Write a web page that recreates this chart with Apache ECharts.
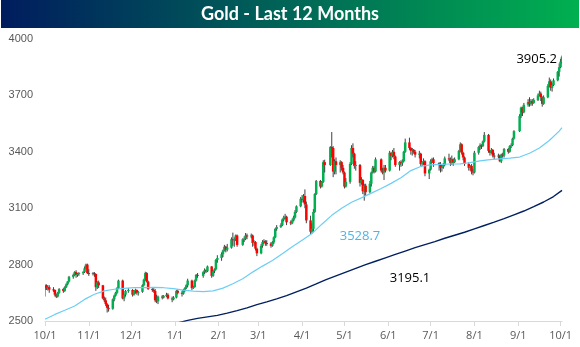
<!DOCTYPE html>
<html>
<head>
<meta charset="utf-8">
<script src="https://cdn.jsdelivr.net/npm/echarts@6/dist/echarts.min.js"></script>
<style>
  html, body { margin: 0; padding: 0; background: #fff; }
  #chart { width: 580px; height: 347px; }
</style>
</head>
<body>
<div id="chart"></div>
<script>
// Daily gold prices: [date, open, close, low, high]
const candles = [
  ['2024-10-01',2665,2690,2630,2695],['2024-10-02',2690,2675,2665,2695],['2024-10-03',2675,2680,2662,2690],['2024-10-04',2680,2667,2650,2690],
  ['2024-10-07',2668,2665,2655,2680],['2024-10-08',2665,2640,2630,2668],['2024-10-09',2640,2630,2622,2645],['2024-10-10',2630,2650,2625,2655],['2024-10-11',2650,2670,2645,2675],
  ['2024-10-14',2670,2660,2650,2675],['2024-10-15',2660,2680,2655,2685],['2024-10-16',2680,2695,2675,2700],['2024-10-17',2695,2710,2690,2712],['2024-10-18',2710,2735,2705,2740],
  ['2024-10-21',2735,2745,2725,2752],['2024-10-22',2745,2760,2740,2765],['2024-10-23',2760,2745,2730,2770],['2024-10-24',2745,2750,2735,2755],['2024-10-25',2750,2755,2740,2760],
  ['2024-10-28',2755,2760,2745,2765],['2024-10-29',2760,2780,2755,2790],['2024-10-30',2780,2800,2775,2805],['2024-10-31',2800,2755,2750,2805],['2024-11-01',2755,2750,2740,2775],
  ['2024-11-04',2750,2755,2742,2760],['2024-11-05',2755,2750,2735,2760],['2024-11-06',2750,2680,2660,2752],['2024-11-07',2680,2705,2670,2712],['2024-11-08',2705,2690,2675,2715],
  ['2024-11-11',2690,2620,2615,2692],['2024-11-12',2620,2610,2600,2630],['2024-11-13',2610,2590,2580,2625],['2024-11-14',2590,2570,2545,2595],['2024-11-15',2570,2565,2550,2585],
  ['2024-11-18',2565,2615,2560,2620],['2024-11-19',2615,2635,2605,2640],['2024-11-20',2635,2650,2630,2655],['2024-11-21',2650,2675,2645,2680],['2024-11-22',2675,2715,2670,2720],
  ['2024-11-25',2715,2620,2615,2720],['2024-11-26',2620,2640,2605,2645],['2024-11-27',2640,2660,2630,2665],['2024-11-29',2660,2665,2650,2675],
  ['2024-12-02',2665,2640,2630,2670],['2024-12-03',2640,2660,2635,2665],['2024-12-04',2660,2665,2645,2672],['2024-12-05',2665,2650,2640,2668],['2024-12-06',2650,2655,2635,2660],
  ['2024-12-09',2655,2690,2650,2695],['2024-12-10',2690,2720,2685,2725],['2024-12-11',2720,2755,2715,2762],['2024-12-12',2755,2710,2705,2760],['2024-12-13',2710,2670,2665,2715],
  ['2024-12-16',2670,2665,2655,2680],['2024-12-17',2665,2660,2650,2675],['2024-12-18',2660,2610,2600,2670],['2024-12-19',2610,2605,2595,2640],['2024-12-20',2605,2630,2590,2635],
  ['2024-12-23',2630,2625,2615,2638],['2024-12-24',2625,2632,2620,2638],['2024-12-26',2632,2640,2628,2650],['2024-12-27',2640,2620,2615,2648],
  ['2024-12-30',2620,2615,2600,2630],['2024-12-31',2615,2625,2610,2632],['2025-01-02',2625,2660,2620,2665],['2025-01-03',2660,2650,2642,2670],
  ['2025-01-06',2650,2645,2630,2660],['2025-01-07',2645,2665,2640,2670],['2025-01-08',2665,2675,2655,2680],['2025-01-09',2675,2690,2670,2695],['2025-01-10',2690,2715,2680,2725],
  ['2025-01-13',2715,2675,2665,2720],['2025-01-14',2675,2680,2670,2688],['2025-01-15',2680,2715,2678,2720],['2025-01-16',2715,2745,2710,2750],['2025-01-17',2745,2740,2730,2755],
  ['2025-01-21',2740,2760,2730,2765],['2025-01-22',2760,2770,2750,2780],['2025-01-23',2770,2765,2755,2775],['2025-01-24',2765,2790,2760,2795],
  ['2025-01-27',2790,2740,2730,2792],['2025-01-28',2740,2765,2735,2770],['2025-01-29',2765,2775,2755,2780],['2025-01-30',2775,2825,2770,2830],['2025-01-31',2825,2835,2810,2850],
  ['2025-02-03',2835,2855,2820,2865],['2025-02-04',2855,2875,2840,2880],['2025-02-05',2875,2895,2870,2905],['2025-02-06',2895,2880,2865,2900],['2025-02-07',2880,2890,2870,2910],
  ['2025-02-10',2890,2935,2885,2945],['2025-02-11',2935,2930,2900,2970],['2025-02-12',2930,2935,2895,2945],['2025-02-13',2935,2955,2925,2960],['2025-02-14',2955,2905,2895,2960],
  ['2025-02-18',2905,2935,2900,2940],['2025-02-19',2935,2938,2920,2950],['2025-02-20',2938,2955,2930,2968],['2025-02-21',2955,2950,2935,2965],
  ['2025-02-24',2950,2955,2940,2965],['2025-02-25',2955,2915,2895,2960],['2025-02-26',2915,2920,2900,2930],['2025-02-27',2920,2885,2875,2925],['2025-02-28',2885,2860,2845,2890],
  ['2025-03-03',2860,2900,2855,2910],['2025-03-04',2900,2920,2890,2930],['2025-03-05',2920,2925,2910,2935],['2025-03-06',2925,2915,2900,2930],['2025-03-07',2915,2912,2900,2930],
  ['2025-03-10',2912,2900,2890,2920],['2025-03-11',2900,2918,2895,2925],['2025-03-12',2918,2945,2910,2950],['2025-03-13',2945,2990,2940,2995],['2025-03-14',2990,3000,2980,3010],
  ['2025-03-17',3000,3010,2995,3020],['2025-03-18',3010,3040,3005,3045],['2025-03-19',3040,3050,3030,3060],['2025-03-20',3050,3055,3040,3070],['2025-03-21',3055,3025,3010,3060],
  ['2025-03-24',3025,3020,3010,3035],['2025-03-25',3020,3035,3015,3045],['2025-03-26',3035,3050,3030,3060],['2025-03-27',3050,3080,3045,3090],['2025-03-28',3080,3110,3075,3115],
  ['2025-03-31',3110,3150,3105,3160],['2025-04-01',3150,3145,3130,3170],['2025-04-02',3145,3165,3130,3175],['2025-04-03',3165,3120,3100,3200],['2025-04-04',3120,3035,3020,3135],
  ['2025-04-07',3035,2975,2960,3060],['2025-04-08',2975,2990,2965,3020],['2025-04-09',2990,3080,2975,3095],['2025-04-10',3080,3175,3075,3180],['2025-04-11',3175,3245,3170,3250],
  ['2025-04-14',3245,3215,3205,3250],['2025-04-15',3215,3240,3210,3245],['2025-04-16',3240,3345,3235,3355],['2025-04-17',3345,3330,3290,3358],
  ['2025-04-21',3330,3425,3325,3430],['2025-04-22',3425,3420,3370,3505],['2025-04-23',3420,3295,3265,3430],['2025-04-24',3295,3350,3280,3360],['2025-04-25',3350,3330,3280,3370],
  ['2025-04-28',3330,3345,3290,3355],['2025-04-29',3345,3315,3300,3350],['2025-04-30',3315,3290,3280,3330],['2025-05-01',3290,3215,3205,3295],['2025-05-02',3215,3240,3210,3260],
  ['2025-05-05',3240,3335,3230,3345],['2025-05-06',3335,3420,3330,3435],['2025-05-07',3420,3390,3370,3445],['2025-05-08',3390,3325,3310,3395],['2025-05-09',3325,3330,3300,3350],
  ['2025-05-12',3330,3235,3215,3335],['2025-05-13',3235,3250,3225,3265],['2025-05-14',3250,3190,3175,3255],['2025-05-15',3190,3220,3140,3230],['2025-05-16',3220,3185,3165,3230],
  ['2025-05-19',3185,3230,3180,3245],['2025-05-20',3230,3290,3215,3295],['2025-05-21',3290,3315,3285,3325],['2025-05-22',3315,3295,3285,3325],['2025-05-23',3295,3360,3290,3370],
  ['2025-05-27',3360,3300,3290,3365],['2025-05-28',3300,3290,3280,3315],['2025-05-29',3290,3315,3250,3330],['2025-05-30',3315,3300,3290,3330],
  ['2025-06-02',3300,3395,3295,3405],['2025-06-03',3395,3380,3355,3395],['2025-06-04',3380,3400,3370,3410],['2025-06-05',3400,3375,3360,3420],['2025-06-06',3375,3330,3320,3380],
  ['2025-06-09',3330,3345,3300,3350],['2025-06-10',3345,3340,3320,3355],['2025-06-11',3340,3350,3325,3360],['2025-06-12',3350,3400,3345,3405],['2025-06-13',3400,3450,3395,3470],
  ['2025-06-16',3450,3420,3410,3475],['2025-06-17',3420,3405,3385,3425],['2025-06-18',3405,3410,3380,3420],['2025-06-19',3410,3400,3390,3415],['2025-06-20',3400,3385,3370,3410],
  ['2025-06-23',3385,3390,3365,3405],['2025-06-24',3390,3335,3325,3395],['2025-06-25',3335,3345,3325,3350],['2025-06-26',3345,3350,3330,3365],['2025-06-27',3350,3285,3270,3355],
  ['2025-06-30',3285,3305,3255,3310],['2025-07-01',3305,3350,3300,3360],['2025-07-02',3350,3360,3340,3368],['2025-07-03',3360,3340,3320,3370],
  ['2025-07-07',3340,3330,3300,3345],['2025-07-08',3330,3315,3290,3345],['2025-07-09',3315,3320,3295,3330],['2025-07-10',3320,3330,3310,3340],['2025-07-11',3330,3365,3325,3375],
  ['2025-07-14',3365,3360,3350,3390],['2025-07-15',3360,3340,3325,3370],['2025-07-16',3340,3360,3330,3380],['2025-07-17',3360,3345,3325,3365],['2025-07-18',3345,3360,3340,3370],
  ['2025-07-21',3360,3405,3355,3410],['2025-07-22',3405,3440,3400,3450],['2025-07-23',3440,3395,3385,3445],['2025-07-24',3395,3370,3355,3400],['2025-07-25',3370,3335,3325,3375],
  ['2025-07-28',3335,3315,3300,3345],['2025-07-29',3315,3325,3300,3330],['2025-07-30',3325,3295,3280,3335],['2025-07-31',3295,3290,3275,3310],['2025-08-01',3290,3395,3285,3405],
  ['2025-08-04',3395,3425,3385,3430],['2025-08-05',3425,3435,3410,3445],['2025-08-06',3435,3430,3415,3440],['2025-08-07',3430,3455,3425,3460],['2025-08-08',3455,3490,3450,3505],
  ['2025-08-11',3490,3405,3395,3495],['2025-08-12',3405,3395,3380,3410],['2025-08-13',3395,3410,3390,3420],['2025-08-14',3410,3380,3370,3415],['2025-08-15',3380,3378,3360,3395],
  ['2025-08-18',3378,3380,3365,3390],['2025-08-19',3380,3350,3345,3385],['2025-08-20',3350,3385,3340,3390],['2025-08-21',3385,3380,3370,3395],['2025-08-22',3380,3415,3370,3420],
  ['2025-08-25',3415,3400,3390,3420],['2025-08-26',3400,3430,3395,3435],['2025-08-27',3430,3435,3420,3445],['2025-08-28',3435,3470,3430,3475],['2025-08-29',3470,3510,3465,3515],
  ['2025-09-02',3510,3590,3505,3600],['2025-09-03',3590,3635,3580,3640],['2025-09-04',3635,3610,3590,3640],['2025-09-05',3610,3650,3605,3660],
  ['2025-09-08',3650,3665,3640,3680],['2025-09-09',3665,3655,3640,3690],['2025-09-10',3655,3670,3645,3680],['2025-09-11',3670,3660,3645,3680],['2025-09-12',3660,3675,3655,3685],
  ['2025-09-15',3675,3700,3670,3710],['2025-09-16',3700,3710,3695,3725],['2025-09-17',3710,3690,3670,3720],['2025-09-18',3690,3655,3640,3695],['2025-09-19',3655,3690,3650,3700],
  ['2025-09-22',3690,3750,3685,3760],['2025-09-23',3750,3775,3745,3795],['2025-09-24',3775,3740,3725,3785],['2025-09-25',3740,3755,3720,3765],['2025-09-26',3755,3780,3750,3790],
  ['2025-09-29',3780,3825,3775,3830],['2025-09-30',3825,3850,3800,3870],['2025-10-01',3850,3880,3845,3895],['2025-10-02',3880,3905.2,3870,3912]
];

// 50-day moving average
const ma50 = [
  ['2024-10-01',2509],['2024-10-08',2535],['2024-10-15',2557],['2024-10-22',2580],['2024-10-29',2615],
  ['2024-11-05',2642],['2024-11-12',2660],['2024-11-19',2669],['2024-11-26',2674],['2024-12-03',2677],
  ['2024-12-10',2678],['2024-12-17',2679],['2024-12-24',2677],['2024-12-31',2672],['2025-01-07',2664],
  ['2025-01-14',2659],['2025-01-21',2656],['2025-01-28',2660],['2025-02-04',2675],['2025-02-11',2698],
  ['2025-02-18',2725],['2025-02-25',2760],['2025-03-04',2792],['2025-03-11',2822],['2025-03-18',2858],
  ['2025-03-25',2895],['2025-04-01',2930],['2025-04-08',2965],['2025-04-15',3015],['2025-04-22',3062],
  ['2025-04-29',3100],['2025-05-06',3132],['2025-05-13',3155],['2025-05-20',3180],['2025-05-27',3205],
  ['2025-06-03',3232],['2025-06-10',3262],['2025-06-17',3300],['2025-06-24',3322],['2025-07-01',3330],
  ['2025-07-08',3333],['2025-07-15',3335],['2025-07-22',3336],['2025-07-29',3342],['2025-08-05',3352],
  ['2025-08-12',3358],['2025-08-19',3362],['2025-08-26',3366],['2025-09-02',3372],['2025-09-09',3392],
  ['2025-09-16',3420],['2025-09-23',3460],['2025-09-30',3510],['2025-10-02',3528.7]
];

// 200-day moving average
const ma200 = [
  ['2025-01-03',2490],['2025-01-10',2503],['2025-01-17',2514],['2025-01-24',2522],['2025-01-31',2530],
  ['2025-02-07',2542],['2025-02-14',2555],['2025-02-21',2570],['2025-02-28',2587],['2025-03-07',2602],
  ['2025-03-14',2618],['2025-03-21',2635],['2025-03-28',2655],['2025-04-04',2675],['2025-04-11',2697],
  ['2025-04-18',2720],['2025-04-25',2740],['2025-05-02',2760],['2025-05-09',2780],['2025-05-16',2800],
  ['2025-05-23',2818],['2025-05-30',2836],['2025-06-06',2854],['2025-06-13',2872],['2025-06-20',2890],
  ['2025-06-27',2906],['2025-07-04',2922],['2025-07-11',2940],['2025-07-18',2956],['2025-07-25',2972],
  ['2025-08-01',2990],['2025-08-08',3008],['2025-08-15',3026],['2025-08-22',3045],['2025-08-29',3065],
  ['2025-09-05',3085],['2025-09-12',3108],['2025-09-19',3133],['2025-09-26',3162],['2025-10-02',3195.1]
];

// Month starts used for the axis ticks and their labels
const monthTicks = ['2024-10-01','2024-11-01','2024-12-01','2025-01-01','2025-02-01','2025-03-01',
  '2025-04-01','2025-05-01','2025-06-01','2025-07-01','2025-08-01','2025-09-01','2025-10-01'];

const titleText = 'Gold - Last 12 Months';
const yTicks = { min: 2500, max: 4000, step: 300 };

function ts(s) {
  const [y, m, d] = s.split('-').map(Number);
  return new Date(y, m - 1, d).getTime();
}

const UP = '#00B050', DOWN = '#FF0000', WICK = '#404040';
const MA50_COLOR = '#6CCEF5', MA200_COLOR = '#002060';

const chart = echarts.init(document.getElementById('chart'), null, { renderer: 'canvas' });

const candleData = candles.map(r => [ts(r[0]), r[1], r[2], r[3], r[4]]);
const ma50Data = ma50.map(r => [ts(r[0]), r[1]]);
const ma200Data = ma200.map(r => [ts(r[0]), r[1]]);
const tickValues = monthTicks.map(ts);

const option = {
  animation: false,
  backgroundColor: '#ffffff',
  grid: { left: 45, right: 18, top: 39, bottom: 26, outerBoundsMode: 'none' },
  xAxis: {
    type: 'value',
    min: candleData[0][0],
    max: candleData[candleData.length - 1][0],
    axisLine: { show: true, lineStyle: { color: '#D9D9D9', width: 1 } },
    axisTick: { show: true, customValues: tickValues, length: 5, lineStyle: { color: '#D9D9D9' } },
    axisLabel: {
      show: true,
      customValues: tickValues,
      margin: 9,
      color: '#595959',
      fontFamily: 'Open Sans',
      fontSize: 11,
      showMinLabel: true,
      showMaxLabel: true,
      formatter: v => { const d = new Date(v); return (d.getMonth() + 1) + '/' + d.getDate(); }
    },
    splitLine: { show: false }
  },
  yAxis: {
    type: 'value',
    min: yTicks.min,
    max: yTicks.max,
    interval: yTicks.step,
    axisLine: { show: false },
    axisTick: { show: false },
    splitLine: { show: false },
    axisLabel: {
      color: '#595959', fontFamily: 'Liberation Sans', fontSize: 11, margin: 12,
      formatter: v => String(v)
    }
  },
  series: [
    {
      type: 'custom',
      name: 'Gold',
      z: 2,
      clip: true,
      encode: { x: 0, y: [1, 2, 3, 4] },
      data: candleData,
      renderItem(params, api) {
        const t = api.value(0);
        const o = api.value(1), c = api.value(2), l = api.value(3), h = api.value(4);
        const pO = api.coord([t, o]), pC = api.coord([t, c]);
        const pL = api.coord([t, l]), pH = api.coord([t, h]);
        const x = pO[0];
        const w = 2.5;
        const top = Math.min(pO[1], pC[1]);
        const bot = Math.max(pO[1], pC[1]);
        return {
          type: 'group',
          children: [
            { type: 'line', shape: { x1: x, y1: pH[1], x2: x, y2: pL[1] },
              style: { stroke: WICK, lineWidth: 1 } },
            { type: 'rect', shape: { x: x - w / 2, y: top, width: w, height: Math.max(bot - top, 1) },
              style: { fill: c >= o ? UP : DOWN } }
          ]
        };
      }
    },
    {
      type: 'line', name: '50-day', z: 3,
      data: ma50Data, showSymbol: false, symbol: 'none', smooth: false, clip: true,
      lineStyle: { color: MA50_COLOR, width: 1.2 }
    },
    {
      type: 'line', name: '200-day', z: 3,
      data: ma200Data, showSymbol: false, symbol: 'none', smooth: false, clip: true,
      lineStyle: { color: MA200_COLOR, width: 1.4 }
    }
  ],
  graphic: [
    {
      type: 'rect', id: 'titleBar', left: 1, top: 0,
      shape: { width: 578, height: 28 },
      style: {
        fill: new echarts.graphic.LinearGradient(0, 0, 1, 0, [
          { offset: 0, color: '#001C5E' },
          { offset: 1, color: '#00B050' }
        ])
      },
      silent: true
    },
    {
      type: 'text', id: 'titleText', x: 290, y: 14,
      style: {
        text: titleText, fill: '#ffffff', font: 'bold 18px Lato',
        align: 'center', verticalAlign: 'middle'
      },
      silent: true
    }
  ]
};

chart.setOption(option);

// Value labels placed beside the last point of each series
const lastCandle = candleData[candleData.length - 1];
const lastMa50 = ma50Data[ma50Data.length - 1];
const lastMa200 = ma200Data[ma200Data.length - 1];
const pClose = chart.convertToPixel({ gridIndex: 0 }, [lastCandle[0], lastCandle[2]]);
const p50 = chart.convertToPixel({ gridIndex: 0 }, lastMa50);
const p200 = chart.convertToPixel({ gridIndex: 0 }, lastMa200);

chart.setOption({
  graphic: [
    { type: 'text', id: 'lblClose', x: pClose[0] - 5, y: pClose[1] + 2,
      style: { text: lastCandle[2].toFixed(1), fill: '#000000', font: '13px "Open Sans"', align: 'right', verticalAlign: 'middle' } },
    { type: 'text', id: 'lbl50', x: p50[0] - 202, y: p50[1] + 109,
      style: { text: lastMa50[1].toFixed(1), fill: '#4DB4E8', font: '13px "Open Sans"', align: 'center', verticalAlign: 'middle' } },
    { type: 'text', id: 'lbl200', x: p200[0] - 152, y: p200[1] + 88,
      style: { text: lastMa200[1].toFixed(1), fill: '#000000', font: '13px "Open Sans"', align: 'center', verticalAlign: 'middle' } }
  ]
});
</script>
</body>
</html>
